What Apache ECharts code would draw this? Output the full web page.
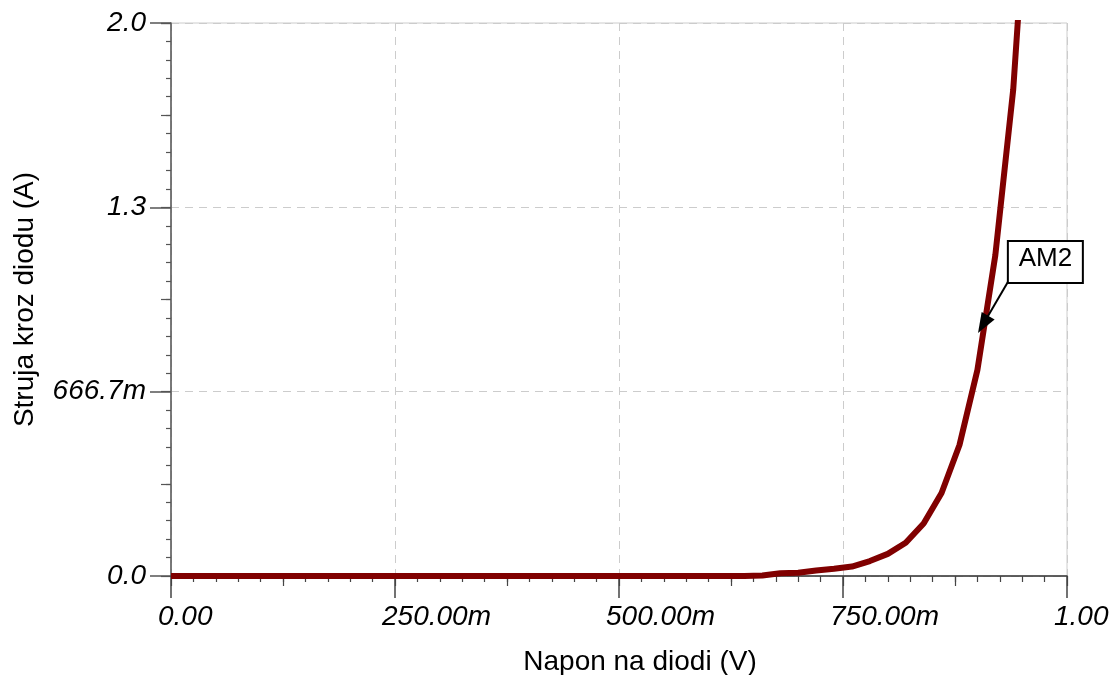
<!DOCTYPE html>
<html>
<head>
<meta charset="utf-8">
<script src="https://cdn.jsdelivr.net/npm/echarts@6/dist/echarts.min.js"></script>
<style>
html,body{margin:0;padding:0;background:#fff;}
#chart{width:1114px;height:675px;}
</style>
</head>
<body>
<div id="chart"></div>
<script>
// Data
const volts = [0.00,0.02,0.04,0.06,0.08,0.10,0.12,0.14,0.16,0.18,0.20,0.22,0.24,0.26,0.28,0.30,0.32,0.34,0.36,0.38,0.40,0.42,0.44,0.46,0.48,0.50,0.52,0.54,0.56,0.58,0.60,0.62,0.64,0.66,0.68,0.70,0.72,0.74,0.76,0.78,0.80,0.82,0.84,0.86,0.88,0.90,0.92,0.94,0.96];
const amps  = [0,0,0,0,0,0,0,0,0,0,0,0,0,0,0,0,0,0,0,0,0,0,0,0,0,0,0,0,0,0,0,0,0,0.002,0.010,0.012,0.020,0.026,0.034,0.054,0.080,0.120,0.190,0.300,0.474,0.745,1.160,1.760,2.720];
const xTickLabels = {0:'0.00', 0.25:'250.00m', 0.5:'500.00m', 0.75:'750.00m', 1:'1.00'};
const yTickLabels = ['0.0','666.7m','1.3','2.0'];
const seriesName = 'AM2';
const annotStart = [0.934, 1.063];
const annotEnd = [0.9007, 0.879];

const chart = echarts.init(document.getElementById('chart'), null, {renderer:'canvas'});
const font = 'Liberation Sans, Arial, sans-serif';
const data = volts.map((v,i)=>[v, amps[i]]);

const option = {
  animation:false,
  backgroundColor:'#fff',
  grid:{left:171, right:47, top:23, bottom:99, containLabel:false, outerBoundsMode:'none',
        show:true, borderColor:'#cccccc', borderWidth:1, backgroundColor:'transparent'},
  xAxis:[{
    type:'value', min:0, max:1, interval:0.25, position:'bottom',
    name:'Napon na diodi (V)', nameLocation:'middle', nameGap:72,
    nameTextStyle:{fontFamily:font, fontSize:28, color:'#000', padding:[0,0,0,42]},
    axisLine:{show:true, onZero:false, lineStyle:{color:'#333', width:1.5}},
    axisTick:{show:true, length:22, lineStyle:{color:'#444', width:1.5}},
    minorTick:{show:true, splitNumber:10, length:6, lineStyle:{color:'#444', width:1.2}},
    axisLabel:{margin:27, align:'center', color:'#000',
      formatter:v=>{const k=Math.round(v*100)/100; return xTickLabels[k]!==undefined?('{a|'+xTickLabels[k]+'}'):'';},
      rich:{a:{width:26, align:'left', overflow:'none', fontFamily:font, fontSize:28, fontStyle:'italic', color:'#000'}}},
    splitLine:{show:true, lineStyle:{color:'#cccccc', type:[8,6], width:1}}
  },{
    type:'value', min:0, max:1, interval:0.125, position:'bottom', gridIndex:0,
    axisLine:{show:false}, axisLabel:{show:false}, splitLine:{show:false},
    axisTick:{show:true, length:10, lineStyle:{color:'#444', width:1.2}}
  }],
  yAxis:[{
    type:'value', min:0, max:2, interval:2/3, position:'left',
    name:'Struja kroz diodu (A)', nameLocation:'middle', nameGap:132,
    nameTextStyle:{fontFamily:font, fontSize:28, color:'#000'},
    axisLine:{show:true, onZero:false, lineStyle:{color:'#555', width:1.5}},
    axisTick:{show:true, length:21, lineStyle:{color:'#555', width:1.5}},
    minorTick:{show:true, splitNumber:10, length:5, lineStyle:{color:'#555', width:1.2}},
    axisLabel:{margin:25, fontFamily:font, fontSize:28, fontStyle:'italic', color:'#000', padding:[0,0,4,0],
      formatter:(v)=>{const i=Math.round(v*1.5); return yTickLabels[i]||'';}},
    splitLine:{show:true, lineStyle:{color:'#cccccc', type:[8,6], width:1}}
  },{
    type:'value', min:0, max:2, interval:1/3, position:'left', gridIndex:0,
    axisLine:{show:false}, axisLabel:{show:false}, splitLine:{show:false},
    axisTick:{show:true, length:10, lineStyle:{color:'#555', width:1.2}}
  }],
  series:[{
    name:seriesName, type:'line', xAxisIndex:0, yAxisIndex:0,
    data:data, showSymbol:false, symbol:'none', clip:true, z:5,
    lineStyle:{color:'#800000', width:6}
  }]
};
chart.setOption(option);

// Annotation (label box + arrow) anchored to data coordinates
const p = chart.convertToPixel({gridIndex:0}, annotStart);
const q = chart.convertToPixel({gridIndex:0}, annotEnd);
const dx = q[0]-p[0], dy = q[1]-p[1];
const len = Math.sqrt(dx*dx+dy*dy);
const ux = dx/len, uy = dy/len;
const headLen = 20, headHalf = 7.5;
const bx = q[0]-ux*headLen, by = q[1]-uy*headLen;
const tri = [[q[0],q[1]],[bx-uy*headHalf, by+ux*headHalf],[bx+uy*headHalf, by-ux*headHalf]];
chart.setOption({
  graphic:[
    {type:'line', z:100, shape:{x1:p[0],y1:p[1],x2:bx+ux*2,y2:by+uy*2}, style:{stroke:'#000', lineWidth:2}},
    {type:'polygon', z:100, shape:{points:tri}, style:{fill:'#000'}},
    {type:'group', left:p[0]-1, top:p[1]-42, z:100,
     children:[
      {type:'rect', shape:{x:0,y:0,width:75,height:42}, style:{fill:'#fff', stroke:'#000', lineWidth:2}},
      {type:'text', x:37.5, y:18, style:{text:seriesName, fontFamily:font, fontSize:26, fill:'#000', align:'center', verticalAlign:'middle'}}
     ]}
  ]
});
</script>
</body>
</html>
